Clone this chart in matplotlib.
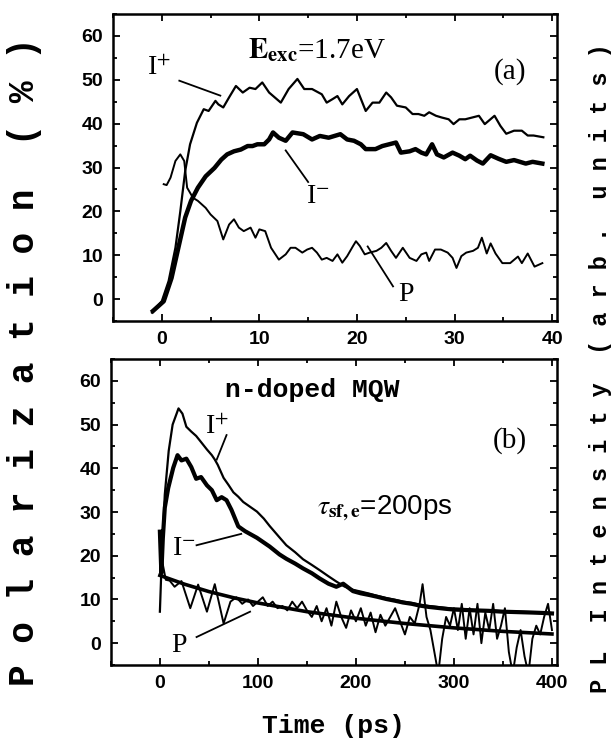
import numpy as np
import matplotlib.pyplot as plt
from matplotlib.ticker import MultipleLocator

plt.rcParams['mathtext.fontset'] = 'stix'

# Painel (a): E_exc = 1.7 eV, tempo em ps
ip_t = [-1.0, 0.0, 0.7, 1.4, 1.9, 2.4, 2.9, 3.6, 4.3, 4.8, 5.5, 5.8, 6.3, 6.9, 7.6, 8.3, 9.0, 9.6, 10.3, 11.0,
        12.2, 13.0, 13.9, 14.6, 15.4, 16.4, 16.9, 17.5, 18.0, 18.5, 19.2, 20.0, 20.9, 21.6, 22.3, 23.0, 23.5, 24.1,
        25.0, 25.7, 26.3, 26.9, 27.4, 28.1, 28.7, 29.4, 29.9, 30.5, 31.1, 31.8, 32.5, 33.1, 34.1, 34.7, 35.3, 36.1,
        36.9, 37.5, 38.1, 39.1]
ip_v = [-3.1, -0.5, 4.1, 11.7, 20.0, 29.2, 35.3, 40.2, 43.3, 42.9, 45.2, 44.4, 43.7, 46.0, 48.6, 47.1, 48.2, 47.9,
        49.4, 47.1, 44.8, 47.9, 50.2, 47.9, 47.9, 46.7, 44.8, 45.6, 46.3, 44.4, 46.3, 47.9, 42.9, 44.8, 44.8, 47.1,
        46.0, 44.1, 43.7, 42.2, 42.2, 41.8, 42.6, 41.8, 41.4, 41.0, 39.9, 41.0, 41.0, 41.4, 41.8, 39.9, 41.8, 39.5,
        37.7, 38.4, 38.4, 37.3, 37.3, 36.9]

im_t = [-0.9, 0.2, 1.0, 1.7, 2.4, 3.0, 3.7, 4.5, 5.4, 6.1, 6.7, 7.4, 8.1, 8.8, 9.3, 9.8, 10.5, 11.0, 11.4, 12.0,
        12.7, 13.4, 14.5, 15.4, 16.2, 17.1, 18.3, 19.0, 19.7, 20.4, 20.9, 21.9, 22.6, 23.3, 24.0, 24.5, 25.4, 26.0,
        26.6, 27.1, 27.7, 28.2, 28.9, 29.8, 30.5, 31.1, 31.6, 32.3, 32.9, 33.7, 34.5, 35.3, 36.1, 37.3, 38.0, 39.0]
im_v = [-2.7, -0.5, 4.8, 11.7, 18.6, 22.4, 25.4, 28.0, 29.9, 31.8, 33.0, 33.7, 34.1, 34.9, 34.9, 35.3, 35.3, 36.4,
        38.0, 36.8, 36.1, 38.0, 37.6, 36.4, 37.2, 36.8, 37.6, 36.4, 36.1, 35.3, 34.2, 34.2, 34.9, 35.3, 35.7, 33.4,
        33.7, 34.2, 33.4, 33.0, 35.3, 33.0, 32.3, 33.4, 32.7, 31.9, 32.7, 31.6, 30.9, 32.8, 32.0, 31.3, 31.7, 30.9,
        31.3, 30.9]

p_t = [0.2, 0.5, 0.9, 1.4, 1.9, 2.3, 2.6, 3.2, 3.7, 4.5, 5.0, 5.7, 6.3, 6.9, 7.4, 7.9, 8.4, 9.1, 9.6, 10.0, 10.6,
       11.2, 12.0, 12.7, 13.2, 13.7, 14.4, 14.9, 15.4, 15.9, 16.4, 16.9, 17.5, 18.0, 18.5, 19.0, 19.6, 19.9, 20.3,
       20.8, 21.3, 22.0, 22.5, 23.0, 23.5, 24.0, 24.7, 25.4, 26.1, 26.6, 27.1, 27.4, 28.0, 28.6, 29.3, 29.8, 30.2,
       30.7, 31.2, 31.9, 32.4, 32.8, 33.3, 33.7, 34.2, 34.9, 35.7, 36.5, 36.9, 37.5, 38.2, 39.0]
p_v = [26.2, 26.0, 27.7, 31.5, 33.0, 31.5, 25.4, 23.1, 22.4, 20.8, 19.3, 17.8, 13.6, 17.0, 18.2, 16.3, 15.5, 16.3,
       14.0, 15.9, 15.5, 11.7, 9.0, 10.2, 11.7, 11.7, 10.6, 11.3, 11.7, 10.6, 9.0, 9.4, 8.7, 10.2, 8.3, 9.8, 12.1,
       13.2, 12.1, 10.2, 10.6, 11.0, 11.7, 12.8, 11.0, 9.4, 11.7, 9.4, 8.7, 10.2, 10.6, 8.7, 11.3, 11.3, 10.6, 9.4,
       7.1, 9.8, 10.6, 11.0, 11.7, 14.0, 10.4, 12.7, 10.4, 8.2, 8.2, 9.7, 8.2, 10.4, 7.4, 8.2]

# Painel (b): n-doped MQW
ipb_t = [0, 2, 5, 9, 13, 19, 23, 27, 32, 37, 42, 48, 53, 56, 59, 65, 70, 75, 80, 85, 92, 99, 106, 112, 122, 129,
         138, 146, 155, 163, 172, 180, 188, 197, 205, 214, 222, 231, 240, 248, 257, 265, 274, 282, 290, 299, 310,
         321, 335, 350, 365, 380, 392, 400]
ipb_v = [7.2, 20, 34, 44, 50, 53.7, 52.5, 49.5, 48.4, 47.4, 46, 44.3, 43, 42, 40.8, 37.8, 36.2, 34.5, 33.5, 32.3,
         31.2, 30.1, 28.5, 26.8, 24.2, 22.4, 20.8, 19.2, 17.9, 16.7, 15.3, 14.1, 13.0, 12.2, 11.8, 11.3, 10.8, 10.3,
         9.9, 9.5, 9.2, 8.8, 8.5, 8.3, 8.1, 7.9, 7.8, 7.6, 7.5, 7.3, 7.2, 7.1, 6.9, 6.8]

imb_t = [0, 1.5, 3, 5, 8.5, 13.6, 18, 22, 27, 32, 37, 42, 48, 53, 58, 63, 68, 73, 80, 87, 99, 112, 122, 129, 138,
         146, 155, 163, 172, 180, 187, 197, 205, 214, 222, 231, 240, 248, 257, 265, 274, 282, 290, 299, 310, 321,
         335, 350, 365, 380, 392, 400]
imb_v = [25.5, 16, 24, 31, 35.5, 40.1, 43, 41.8, 42.2, 40.3, 37.6, 38, 36.1, 35, 32.7, 33.4, 32.7, 30.5, 26.7, 25.6,
         24.1, 22.1, 20.3, 19.3, 18.2, 17.1, 16.0, 14.8, 13.6, 12.9, 13.6, 11.9, 11.4, 11.0, 10.6, 10.1, 9.7, 9.3,
         9.0, 8.6, 8.3, 8.1, 7.9, 7.7, 7.6, 7.5, 7.4, 7.2, 7.1, 7.0, 6.9, 6.8]

pb_t = [0, 3, 6, 10, 15, 22, 31, 39, 48, 56, 65, 72, 78, 84, 90, 95, 100, 105, 110, 115, 120, 125, 130, 135, 140,
        145, 150, 155, 160, 165, 170, 175, 180, 185, 190, 195, 200, 205, 210, 215, 220, 225, 230, 235, 240, 245, 250,
        255, 260, 265, 268, 272, 276, 280, 284, 288, 292, 296, 300, 304, 308, 312, 316, 320, 324, 328, 332, 336, 340,
        344, 348, 352, 356, 360, 364, 368, 372, 376, 380, 384, 388, 392, 396, 400]
pb_v = [15.5, 18, 14.5, 14.3, 12.9, 14.2, 8.0, 13.4, 7.2, 13.5, 4.5, 9.5, 10.5, 9, 10, 8.5, 9.5, 10.5, 8.5, 9.5,
        8, 8.5, 7.5, 9.5, 8, 9.5, 7.5, 6, 8.5, 5, 8, 4, 9.5, 6, 3.5, 7.5, 5, 8, 4, 7,
        2.5, 6.5, 4, 6, 8, 5, 2, 6, 4.5, 9, 13.5, 6, 3, -2, -7, 1, 6, 4, 8, 3,
        9, 1, 8, 2, 9, 0, 7, 3, 9, 1, 4, 8, -2, -7, -1, 3, -3, -7, 1, 4, 2, 6, 9, 3]

fit_t = [0, 25, 50, 75, 100, 150, 200, 250, 300, 350, 400]
fit_v = [15.5, 13.5, 11.8, 10.4, 9.2, 7.2, 5.7, 4.5, 3.5, 2.7, 2.1]

serif = 'Liberation Serif'
sans = 'Liberation Sans'
mono = 'Liberation Mono'

fig = plt.figure(figsize=(6.16, 7.39), dpi=100)
ax1 = fig.add_axes([0.1834, 0.5656, 0.7208, 0.4154])
ax2 = fig.add_axes([0.180, 0.1001, 0.724, 0.4141])


def style_axis(ax, xmaj, xmin):
    for s in ax.spines.values():
        s.set_linewidth(1.8)
    ax.set_ylim(-5, 65)
    ax.yaxis.set_major_locator(MultipleLocator(10))
    ax.yaxis.set_minor_locator(MultipleLocator(5))
    ax.xaxis.set_major_locator(MultipleLocator(xmaj))
    ax.xaxis.set_minor_locator(MultipleLocator(xmin))
    ax.tick_params(which='both', direction='in', top=True, right=True, width=1.3)
    ax.tick_params(which='major', length=5, pad=7)
    ax.tick_params(which='minor', length=3)
    for lab in ax.get_xticklabels() + ax.get_yticklabels():
        lab.set_fontfamily(sans)
        lab.set_fontweight('bold')
        lab.set_fontsize(14)


# (a)
ax1.plot(ip_t, ip_v, color='black', lw=1.6)
ax1.plot(im_t, im_v, color='black', lw=3.2)
ax1.plot(p_t, p_v, color='black', lw=1.4)
ax1.set_xlim(-5, 40.5)
style_axis(ax1, 10, 5)

ax1.text(8.8, 55, r'$\mathbf{E}_{\mathbf{exc}}$=1.7eV', fontsize=21, family=serif)
ax1.text(34.0, 52, '(a)', fontsize=21, family=serif, va='center')
ax1.text(-1.5, 52.5, r'I$^{+}$', fontsize=20, family=serif, va='center')
ax1.plot([1.8, 6.0], [49.8, 46.4], color='black', lw=1.3)
ax1.text(14.8, 23.5, r'I$^{-}$', fontsize=20, family=serif, va='center')
ax1.plot([12.7, 15.0], [33.9, 26.7], color='black', lw=1.3)
ax1.text(24.2, 1.0, 'P', fontsize=20, family=serif, va='center')
ax1.plot([21.1, 23.7], [12.0, 2.9], color='black', lw=1.3)

# (b)
ax2.plot(ipb_t, ipb_v, color='black', lw=1.6)
ax2.plot(imb_t, imb_v, color='black', lw=3.0)
ax2.plot(pb_t, pb_v, color='black', lw=1.4)
ax2.plot(fit_t, fit_v, color='black', lw=2.6)
ax2.set_xlim(-50, 405)
style_axis(ax2, 100, 50)

ax2.text(156, 58, 'n-doped MQW', fontsize=19, family=mono, weight='bold', ha='center', va='center')
ax2.text(46, 49.4, r'I$^{+}$', fontsize=20, family=serif, va='center')
ax2.plot([68, 58], [47.6, 42.0], color='black', lw=1.3)
ax2.text(340, 46.4, '(b)', fontsize=21, family=serif, va='center')
ax2.text(160, 31, r'$\tau_{\mathbf{sf,e}}$=200ps', fontsize=20, family=sans, va='center')
ax2.text(12, 21.7, r'I$^{-}$', fontsize=20, family=serif, va='center')
ax2.plot([37.4, 83], [22.4, 25.0], color='black', lw=1.3)
ax2.text(12, -0.5, 'P', fontsize=20, family=serif, va='center')
ax2.plot([37.4, 92], [1.4, 7.2], color='black', lw=1.3)

ax2.set_xlabel('Time (ps)', fontsize=19, family=mono, weight='bold', labelpad=16)

left_lab = '  '.join(' '.join(w) for w in ['Polarization', '(%)'])
right_lab = '  '.join(' '.join(w) for w in ['PL', 'Intensity', '(arb.', 'units)'])
fig.text(0.040, 0.51, left_lab, rotation=90, fontsize=26, family=mono, weight='bold',
         ha='center', va='center')
fig.text(0.975, 0.502, right_lab, rotation=90, fontsize=17, family=mono, weight='bold',
         ha='center', va='center')

fig.savefig('out.png', dpi=100)
